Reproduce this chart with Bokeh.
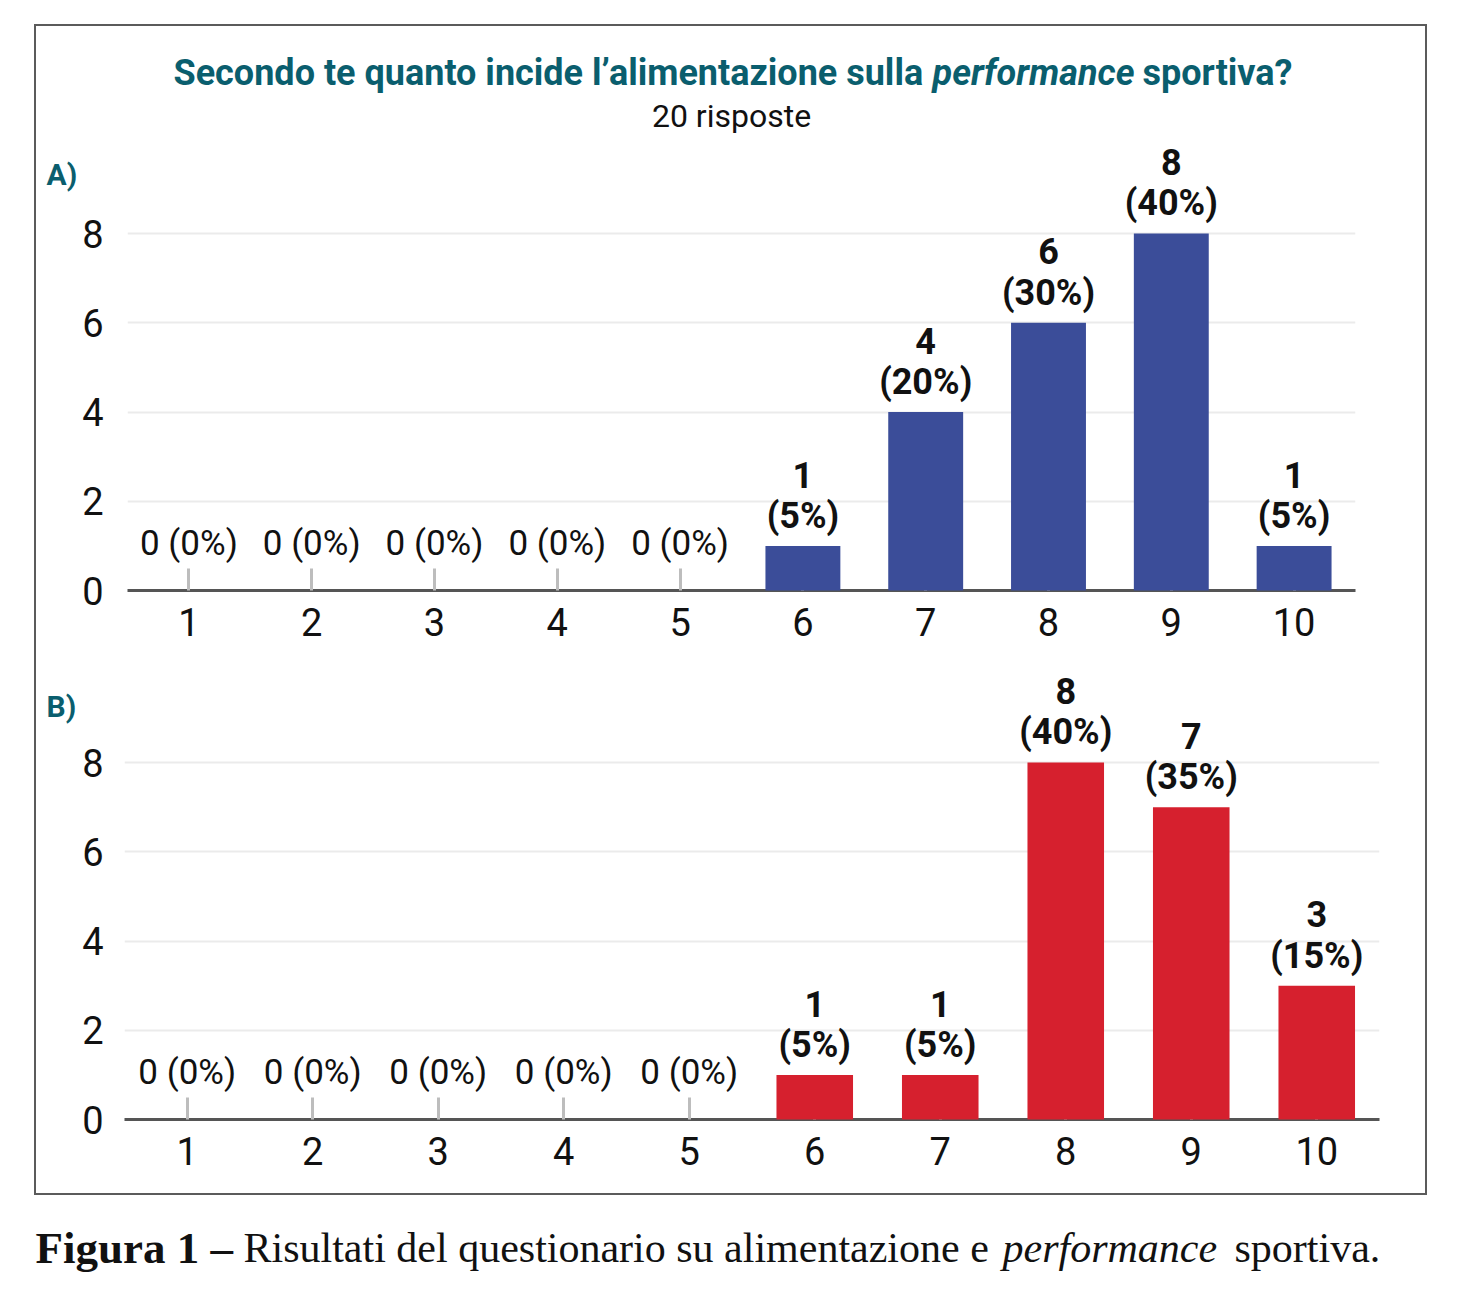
from bokeh.plotting import figure
from bokeh.models import ColumnDataSource, FactorRange, Range1d, FixedTicker
from bokeh.layouts import column, row
from bokeh.embed import file_html
from bokeh.resources import INLINE
from bokeh.core.properties import value

# ---------------- data ----------------
categories = ["1", "2", "3", "4", "5", "6", "7", "8", "9", "10"]
counts_a = [0, 0, 0, 0, 0, 1, 4, 6, 8, 1]
counts_b = [0, 0, 0, 0, 0, 1, 1, 8, 7, 3]
total_responses = 20
y_ticks = [0, 2, 4, 6, 8]
title_parts = ["Secondo te quanto incide l\u2019alimentazione sulla", "performance", "sportiva?"]
subtitle = "20 risposte"
panel_labels = ["A)", "B)"]
caption_parts = ["Figura 1 \u2013", "Risultati del questionario su alimentazione e", "performance", "sportiva."]

# ---------------- style ----------------
FONT = "Roboto"
SERIF = "Liberation Serif"
TEAL = "#0a5e6e"
BLUE = "#3b4d99"
RED = "#d6202e"
INNER_W = 1389
SIDE_W = 41
PX_PER_UNIT = 44.625


def blank(width, height):
    p = figure(x_range=Range1d(0, width), y_range=Range1d(height, 0),
               width=width, height=height, output_backend="svg",
               toolbar_location=None, title=None, min_border=0,
               x_axis_location=None, y_axis_location=None)
    p.outline_line_color = None
    p.grid.visible = False
    return p


def make_chart(counts, color, width, height, mb_left, mb_right, mb_top, mb_bottom, y_standoff):
    frame_h = height - mb_top - mb_bottom
    y_end = frame_h / PX_PER_UNIT
    p = figure(x_range=FactorRange(*categories), y_range=Range1d(0, y_end),
               width=width, height=height, output_backend="svg",
               toolbar_location=None, title=None,
               min_border_left=mb_left, min_border_right=mb_right,
               min_border_top=mb_top, min_border_bottom=mb_bottom)
    p.outline_line_color = None

    src = ColumnDataSource(dict(cat=categories, count=counts))
    p.vbar(x="cat", top="count", width=0.61, source=src,
           fill_color=color, line_color=None, level="annotation")

    nz_cat, nz_val, nz_txt, z_cat, z_val, z_txt = [], [], [], [], [], []
    for c, v in zip(categories, counts):
        pct = round(100 * v / total_responses)
        if v > 0:
            nz_cat.append(c); nz_val.append(v); nz_txt.append(f"{v}\n({pct}%)")
        else:
            z_cat.append(c); z_val.append(v); z_txt.append(f"{v} ({pct}%)")
    p.text(x="cat", y="val", text="txt",
           source=ColumnDataSource(dict(cat=nz_cat, val=nz_val, txt=nz_txt)),
           text_font=value(FONT), text_font_style="bold", text_font_size="36px",
           text_align="center", text_baseline="bottom", text_line_height=0.96,
           y_offset=-9, text_color="#111111", level="annotation")
    p.text(x="cat", y="val", text="txt",
           source=ColumnDataSource(dict(cat=z_cat, val=z_val, txt=z_txt)),
           text_font=value(FONT), text_font_size="35px",
           text_align="center", text_baseline="bottom",
           y_offset=-27, text_color="#111111")

    p.xgrid.grid_line_color = None
    p.ygrid.ticker = FixedTicker(ticks=y_ticks)
    p.ygrid.grid_line_color = "#ebebeb"
    p.ygrid.grid_line_width = 2

    p.yaxis.ticker = FixedTicker(ticks=y_ticks)
    p.yaxis.axis_line_color = None
    p.yaxis.major_tick_line_color = None
    p.yaxis.minor_tick_line_color = None
    p.yaxis.major_tick_out = 0
    p.yaxis.major_tick_in = 0
    p.yaxis.minor_tick_out = 0
    p.yaxis.major_label_standoff = y_standoff
    p.yaxis.major_label_text_font = FONT
    p.yaxis.major_label_text_font_size = "38px"
    p.yaxis.major_label_text_color = "#111111"

    p.xaxis.axis_line_color = "#555555"
    p.xaxis.axis_line_width = 3
    p.xaxis.major_tick_in = 22
    p.xaxis.major_tick_out = 0
    p.xaxis.major_tick_line_color = "#bdbdbd"
    p.xaxis.major_tick_line_width = 3
    p.xaxis.major_label_standoff = 17
    p.xaxis.major_label_text_font = FONT
    p.xaxis.major_label_text_font_size = "38px"
    p.xaxis.major_label_text_color = "#111111"
    return p


# ---- header (title + subtitle), page y 26..138 ----
head = blank(INNER_W, 112)
head.text(x=[137, 896, 1106], y=[46, 46, 46], text=title_parts,
          text_font=value(FONT), text_font_style=["bold", "bold italic", "bold"],
          text_font_size="36px", text_color=TEAL,
          text_align="left", text_baseline="middle")
head.text(x=[695], y=[89], text=[subtitle], text_font=value(FONT),
          text_font_size="32px", text_color="#111111",
          text_align="center", text_baseline="middle")

# ---- chart A row, page y 138..655 ----
sideA = blank(SIDE_W, 517)
sideA.text(x=[10], y=[41], text=[panel_labels[0]], text_font=value(FONT),
           text_font_style="bold", text_font_size="30px", text_color=TEAL,
           text_align="left", text_baseline="middle")
figA = make_chart(counts_a, BLUE, INNER_W - SIDE_W, 517,
                  mb_left=50, mb_right=70, mb_top=0, mb_bottom=65, y_standoff=24)

# ---- chart B row, page y 655..1193 ----
sideB = blank(SIDE_W, 538)
sideB.text(x=[10], y=[50], text=[panel_labels[1]], text_font=value(FONT),
           text_font_style="bold", text_font_size="30px", text_color=TEAL,
           text_align="left", text_baseline="middle")
figB = make_chart(counts_b, RED, INNER_W - SIDE_W, 538,
                  mb_left=47, mb_right=46, mb_top=9, mb_bottom=74, y_standoff=21)

box = column(head, row(sideA, figA), row(sideB, figB),
             styles={"border": "2px solid #5b5b5b"}, margin=(24, 0, 0, 34))

# ---- caption ----
cap = blank(1457, 96)
cap.text(x=[35, 243, 1002, 1234], y=[52] * 4, text=caption_parts,
         text_font=value(SERIF), text_font_style=["bold", "normal", "italic", "normal"],
         text_font_size=["45px", "42px", "42px", "42px"],
         text_align="left", text_baseline="middle", text_color="#111111")

layout = column(box, cap)
open("out.html", "w").write(file_html(layout, INLINE))
